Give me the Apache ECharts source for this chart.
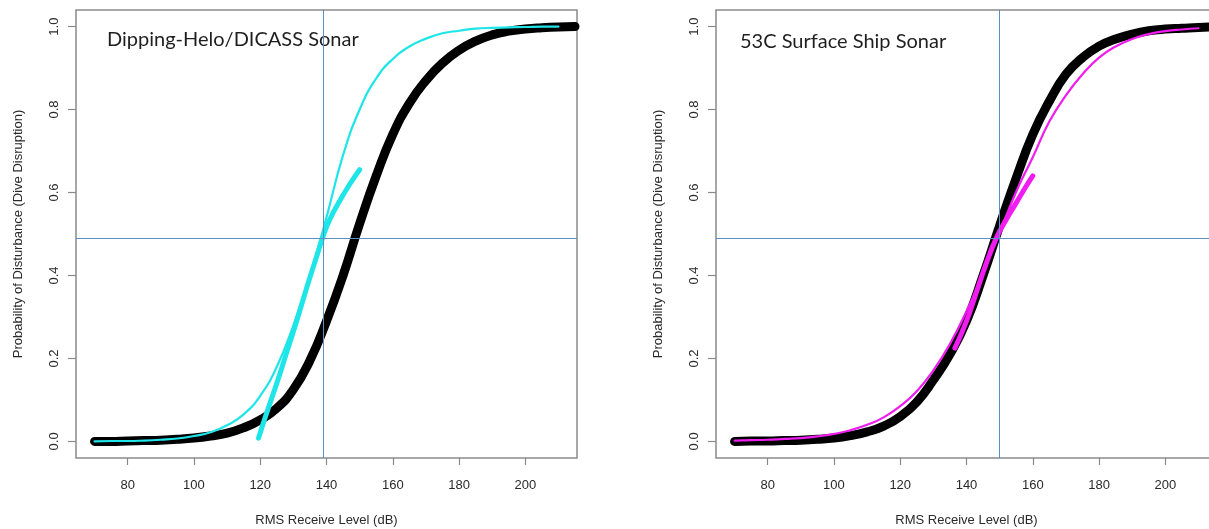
<!DOCTYPE html>
<html>
<head>
<meta charset="utf-8">
<title>Behavioral response curves</title>
<script src="https://cdn.jsdelivr.net/npm/echarts@6/dist/echarts.min.js"></script>
<style>
  html, body { margin: 0; padding: 0; background: #ffffff; }
  #chart { width: 1209px; height: 529px; }
</style>
</head>
<body>
<div id="chart"></div>
<script>
// Received level grid (dB) for the full-range curves
const levelsDb = [70, 75, 80, 85, 90, 95, 100, 105, 110, 115, 120, 125, 130, 135, 140,
                  145, 150, 155, 160, 165, 170, 175, 180, 185, 190, 195, 200, 205, 210, 215];

// Dipping-Helo/DICASS: reference risk function (black)
const heloRisk = [0.000, 0.000, 0.001, 0.002, 0.003, 0.005, 0.008, 0.013, 0.020, 0.033,
                  0.052, 0.080, 0.125, 0.195, 0.290, 0.400, 0.525, 0.640, 0.740, 0.815,
                  0.870, 0.912, 0.943, 0.965, 0.980, 0.989, 0.994, 0.997, 0.999, 1.000];
// Dipping-Helo/DICASS: fitted curve (thin cyan), 70..210 dB
const heloFit = [0.000, 0.001, 0.001, 0.002, 0.004, 0.007, 0.013, 0.022, 0.039, 0.065,
                 0.110, 0.180, 0.280, 0.400, 0.540, 0.690, 0.800, 0.875, 0.922, 0.952,
                 0.971, 0.984, 0.990, 0.995, 0.997, 0.998, 0.999, 1.000, 1.000];
// Dipping-Helo/DICASS: observed-range segment (thick cyan)
const heloObsDb = [119.5, 122, 125, 128, 131, 134, 137, 139, 141, 144, 147, 150];
const heloObs = [0.008, 0.070, 0.140, 0.215, 0.290, 0.370, 0.445, 0.495, 0.535, 0.580, 0.620, 0.655];

// 53C surface ship: reference risk function (black)
const shipRisk = [0.000, 0.001, 0.001, 0.002, 0.003, 0.005, 0.008, 0.014, 0.023, 0.037,
                  0.060, 0.095, 0.148, 0.210, 0.290, 0.400, 0.520, 0.635, 0.740, 0.820,
                  0.885, 0.925, 0.953, 0.970, 0.982, 0.990, 0.994, 0.996, 0.998, 0.999];
// 53C surface ship: fitted curve (thin magenta), 70..210 dB
const shipFit = [0.002, 0.003, 0.004, 0.006, 0.008, 0.012, 0.018, 0.027, 0.040, 0.058,
                 0.085, 0.121, 0.171, 0.235, 0.314, 0.406, 0.504, 0.602, 0.685, 0.771,
                 0.834, 0.885, 0.925, 0.952, 0.970, 0.982, 0.989, 0.993, 0.996];
// 53C surface ship: observed-range segment (thick magenta)
const shipObsDb = [136.5, 140, 143, 146, 149, 152, 155, 158, 160];
const shipObs = [0.225, 0.290, 0.360, 0.430, 0.490, 0.535, 0.575, 0.615, 0.640];

// Crosshair reference levels [level dB, probability]
const heloCross = [139, 0.495];
const shipCross = [150, 0.495];

// Axis ticks
const xTicks = [80, 100, 120, 140, 160, 180, 200];
const yTicks = [0.0, 0.2, 0.4, 0.6, 0.8, 1.0];

const panelTitles = ['Dipping-Helo/DICASS Sonar', '53C Surface Ship Sonar'];
const xTitle = 'RMS Receive Level (dB)';
const yTitle = 'Probability of Disturbance (Dive Disruption)';

const pair = (xs, ys) => ys.map((v, i) => [xs[i], v]);

const AXIS_GRAY = '#8a8a8a';
const TEXT = '#2a2a2a';
const REF_BLUE = '#5b8ec4';

function xAxisFor(idx) {
  return {
    type: 'value', gridIndex: idx, min: 64.4, max: 215.6, position: 'bottom',
    name: xTitle, nameLocation: 'middle', nameGap: 56,
    nameTextStyle: { fontFamily: 'Liberation Sans', fontSize: 13, color: TEXT },
    axisLine: { show: false, onZero: false },
    splitLine: { show: false },
    axisTick: { show: true, inside: false, length: 7, customValues: xTicks,
                lineStyle: { color: AXIS_GRAY, width: 1.2 } },
    axisLabel: { show: true, customValues: xTicks, margin: 21,
                 fontFamily: 'Liberation Sans', fontSize: 13, color: TEXT }
  };
}
function yAxisFor(idx) {
  return {
    type: 'value', gridIndex: idx, min: -0.04, max: 1.04, position: 'left',
    name: yTitle, nameLocation: 'middle', nameGap: 51,
    nameTextStyle: { fontFamily: 'Liberation Sans', fontSize: 13, color: TEXT },
    axisLine: { show: false, onZero: false },
    splitLine: { show: false },
    axisTick: { show: true, inside: false, length: 8, customValues: yTicks,
                lineStyle: { color: AXIS_GRAY, width: 1.2 } },
    axisLabel: { show: true, customValues: yTicks, rotate: 90, margin: 15,
                 formatter: v => Number(v).toFixed(1),
                 fontFamily: 'Liberation Sans', fontSize: 13, color: TEXT }
  };
}

function curve(idx, data, color, width, z) {
  return {
    type: 'line', xAxisIndex: idx, yAxisIndex: idx, data: data,
    showSymbol: false, symbol: 'none', smooth: 0.5,
    lineStyle: { color: color, width: width, cap: 'round', join: 'round' },
    z: z, silent: true
  };
}
function crosshair(idx, cross) {
  return {
    type: 'line', xAxisIndex: idx, yAxisIndex: idx, data: [], z: 10, silent: true,
    markLine: {
      silent: true, symbol: 'none', label: { show: false },
      lineStyle: { color: REF_BLUE, width: 1, type: 'solid' },
      emphasis: { disabled: true },
      data: [{ xAxis: cross[0] }, { yAxis: cross[1] }]
    }
  };
}

const chart = echarts.init(document.getElementById('chart'), null, { renderer: 'canvas' });
chart.setOption({
  backgroundColor: '#ffffff',
  animation: false,
  grid: [
    { left: 76, top: 10, width: 501, height: 448, show: true, borderColor: AXIS_GRAY, borderWidth: 1.5,
      backgroundColor: 'transparent', containLabel: false, outerBoundsMode: 'none' },
    { left: 716, top: 10, width: 501, height: 448, show: true, borderColor: AXIS_GRAY, borderWidth: 1.5,
      backgroundColor: 'transparent', containLabel: false, outerBoundsMode: 'none' }
  ],
  xAxis: [xAxisFor(0), xAxisFor(1)],
  yAxis: [yAxisFor(0), yAxisFor(1)],
  graphic: [
    { type: 'text', left: 107, top: 30, silent: true,
      style: { text: panelTitles[0], font: '20px Lato', fill: '#1f1f1f' } },
    { type: 'text', left: 740, top: 32, silent: true,
      style: { text: panelTitles[1], font: '20px Lato', fill: '#1f1f1f' } }
  ],
  series: [
    curve(0, pair(levelsDb, heloRisk), '#000000', 9, 2),
    curve(0, pair(levelsDb, heloFit), '#1ee5e8', 2.2, 3),
    curve(0, pair(heloObsDb, heloObs), '#1ee5e8', 5, 4),
    crosshair(0, heloCross),
    curve(1, pair(levelsDb, shipRisk), '#000000', 9, 2),
    curve(1, pair(levelsDb, shipFit), '#f01cf0', 2.2, 3),
    curve(1, pair(shipObsDb, shipObs), '#f01cf0', 5, 4),
    crosshair(1, shipCross)
  ]
});
</script>
</body>
</html>
